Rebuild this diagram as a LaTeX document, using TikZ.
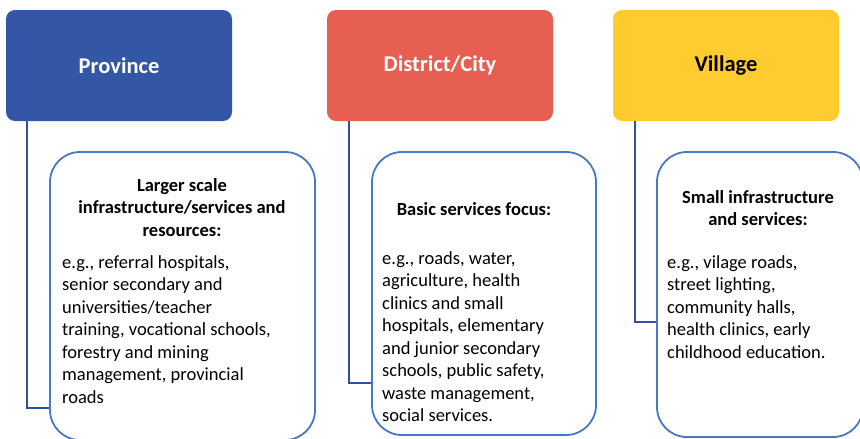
\documentclass[tikz,border=0pt]{standalone}
\usepackage{fontspec}
\setmainfont{Carlito}
\usetikzlibrary{calc}
\definecolor{provblue}{HTML}{3356A5}
\definecolor{distred}{HTML}{E65F52}
\definecolor{villyel}{HTML}{FFCB2F}
\definecolor{boxline}{HTML}{4A76C6}
\definecolor{connline}{HTML}{2F509E}
\tikzset{
  hdr/.style={rectangle, rounded corners=9pt, minimum width=226pt, minimum height=111pt, inner sep=0pt, font=\fontsize{22.5}{27}\selectfont\bfseries},
  childbox/.style={draw=boxline, line width=1.8pt, rounded corners=30pt, inner sep=0pt},
  conn/.style={draw=connline, line width=2pt},
  ttl/.style={inner sep=0pt, align=center, font=\fontsize{18.5}{22.5}\selectfont\bfseries},
  bdy/.style={inner sep=0pt, align=left, anchor=north west, font=\fontsize{18.5}{22.5}\selectfont},
}
\begin{document}
\begin{tikzpicture}[x=1pt,y=-1pt]
\useasboundingbox (0,0) rectangle (860,439);
% headers
\node[hdr, fill=provblue, text=white] (prov) at (119,65.5) {Province};
\node[hdr, fill=distred, text=white] (dist) at (440,65.5) {District/City};
\node[hdr, fill=villyel, text=black] (vill) at (726,65.5) {Village};
% child boxes
\node[childbox, minimum width=265pt, minimum height=288pt] (provc) at (182.5,296) {};
\node[childbox, minimum width=224pt, minimum height=283pt] (distc) at (484,293.5) {};
\node[childbox, minimum width=206pt, minimum height=285pt] (villc) at (760,294.5) {};
% connectors
\draw[conn] (prov.south -| 27,0) |- (provc.west |- 0,408);
\draw[conn] (dist.south -| 349,0) |- (distc.west |- 0,383);
\draw[conn] (vill.south -| 635,0) |- (villc.west |- 0,322);
% texts
\node[ttl, anchor=north] (provt) at (182,178) {Larger scale\\infrastructure/services and\\resources:};
\node[bdy] (provb) at (62,255) {e.g., referral hospitals,\\senior secondary and\\universities/teacher\\training, vocational schools,\\forestry and mining\\management, provincial\\roads};
\node[ttl, anchor=north] (distt) at (474,202) {Basic services focus:};
\node[bdy] (distb) at (382,251) {e.g., roads, water,\\agriculture, health\\clinics and small\\hospitals, elementary\\and junior secondary\\schools, public safety,\\waste management,\\social services.};
\node[ttl, anchor=north] (villt) at (758,190) {Small infrastructure\\and services:};
\node[bdy] (villb) at (667,255) {e.g., vilage roads,\\street lighting,\\community halls,\\health clinics, early\\childhood education.};
\end{tikzpicture}
\end{document}
